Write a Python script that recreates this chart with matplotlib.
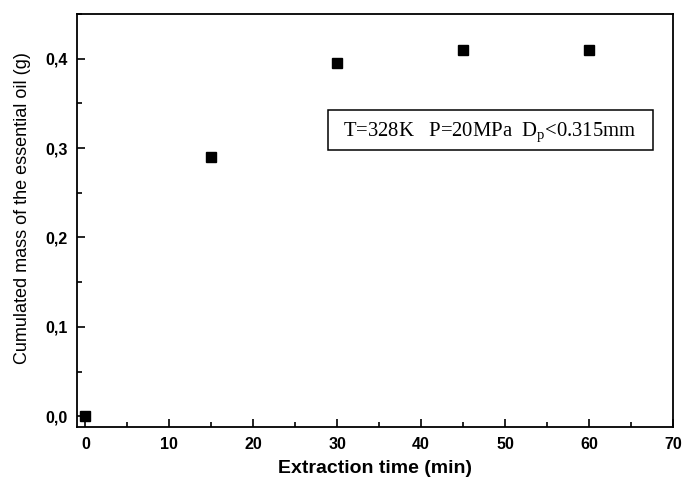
import matplotlib
matplotlib.use('Agg')
import matplotlib.pyplot as plt
from matplotlib.patches import Rectangle
from matplotlib.ticker import MultipleLocator, FuncFormatter

# 数据：提取时间 (min) 与累计精油质量 (g)
time_min = [0, 15, 30, 45, 60]
mass_g = [0.0, 0.29, 0.395, 0.41, 0.41]

x_label = 'Extraction time (min)'
y_label = 'Cumulated mass of the essential oil (g)'
box_text = r'T=328K   P=20MPa  D$_\mathregular{p}$<0.315mm'

plt.rcParams['font.family'] = ['Liberation Sans', 'DejaVu Sans']

fig = plt.figure(figsize=(6.85, 4.83), dpi=100)
ax = fig.add_axes([0.1124, 0.116, 0.87, 0.855])

ax.plot(time_min, mass_g, linestyle='none', marker='s', markersize=6.5,
        color='black')

ax.set_xlim(-1, 70)
ax.set_ylim(-0.012, 0.45)

ax.xaxis.set_major_locator(MultipleLocator(10))
ax.xaxis.set_minor_locator(MultipleLocator(5))
ax.yaxis.set_major_locator(MultipleLocator(0.1))
ax.yaxis.set_minor_locator(MultipleLocator(0.05))
# 小数点用逗号
ax.yaxis.set_major_formatter(FuncFormatter(lambda v, p: f'{v:.1f}'.replace('.', ',')))

ax.tick_params(which='both', direction='in', top=False, right=False, width=1.2)
ax.tick_params(which='major', length=6, labelsize=11.5, pad=7)
ax.tick_params(which='minor', length=3.5)
for lab in ax.get_xticklabels() + ax.get_yticklabels():
    lab.set_fontweight('bold')

for sp in ax.spines.values():
    sp.set_linewidth(1.3)

ax.set_xlabel(x_label, fontsize=14, fontweight='bold', labelpad=6)
ax.set_ylabel(y_label, fontsize=13)
ax.yaxis.set_label_coords(-0.078, 0.53)

# 参数说明框
ax.add_patch(Rectangle((0.421, 0.671), 0.545, 0.097, transform=ax.transAxes,
                       facecolor='white', edgecolor='black', linewidth=1.1, zorder=3))
ax.text(0.692, 0.703, box_text, transform=ax.transAxes, ha='center', va='baseline',
        fontsize=14.9, family=['Liberation Serif', 'DejaVu Serif'], zorder=4)

plt.savefig('out.png', dpi=100)
